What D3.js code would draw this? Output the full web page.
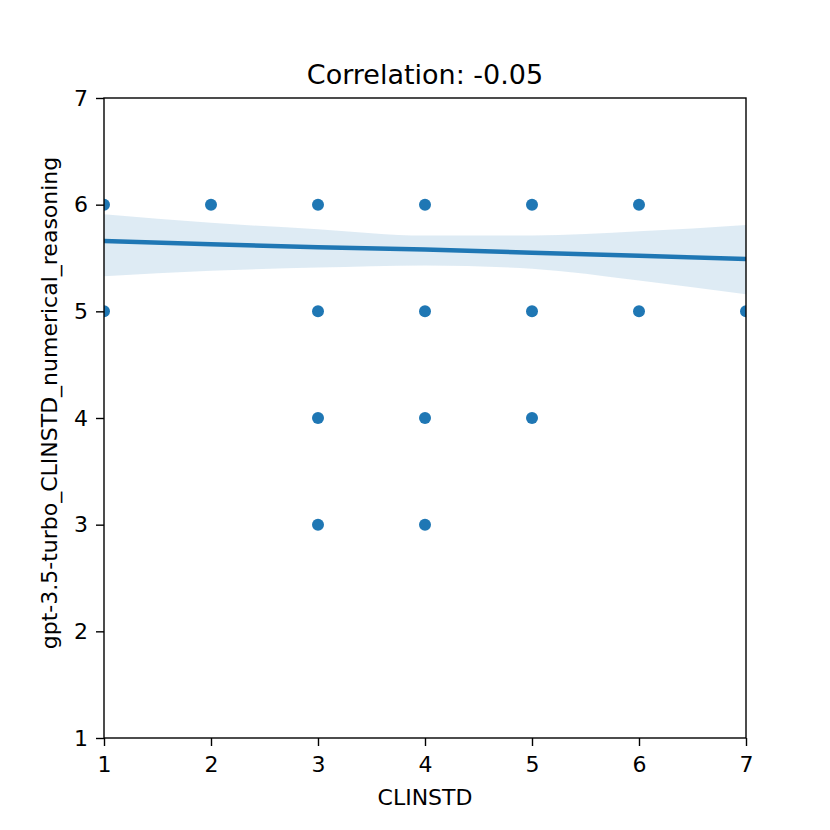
<!DOCTYPE html>
<html>
<head>
<meta charset="utf-8">
<script src="https://cdn.jsdelivr.net/npm/d3@7"></script>
<style>
  body { margin: 0; background: #fff; }
  text { font-family: "DejaVu Sans", sans-serif; fill: #000; }
</style>
</head>
<body>
<script>
// observed points (CLINSTD vs gpt-3.5-turbo score)
const xVals = [1, 1, 2, 3, 3, 3, 3, 4, 4, 4, 4, 5, 5, 5, 6, 6, 7];
const yVals = [6, 5, 6, 6, 5, 4, 3, 6, 5, 4, 3, 6, 5, 4, 6, 5, 5];

// fitted line and confidence band
const fitX     = [1, 2, 3, 4, 5, 6, 7];
const fitY     = [5.66, 5.63, 5.60, 5.58, 5.55, 5.52, 5.49];
const bandHigh = [5.91, 5.83, 5.77, 5.71, 5.71, 5.75, 5.81];
const bandLow  = [5.33, 5.38, 5.41, 5.43, 5.40, 5.29, 5.16];

const ticks = [1, 2, 3, 4, 5, 6, 7];
const title = "Correlation: -0.05";
const xLabel = "CLINSTD";
const yLabel = "gpt-3.5-turbo_CLINSTD_numerical_reasoning";

const width = 830, height = 830;
const margin = {top: 98, right: 84, bottom: 92, left: 104};
const blue = "#1f77b4";

const x = d3.scaleLinear().domain([1, 7]).range([margin.left, width - margin.right]);
const y = d3.scaleLinear().domain([1, 7]).range([height - margin.bottom, margin.top]);

const svg = d3.select("body").append("svg")
  .attr("width", width)
  .attr("height", height);

svg.append("clipPath").attr("id", "plot-clip")
  .append("rect")
  .attr("x", margin.left).attr("y", margin.top)
  .attr("width", width - margin.left - margin.right)
  .attr("height", height - margin.top - margin.bottom);

const plot = svg.append("g").attr("clip-path", "url(#plot-clip)");

// points
plot.append("g")
  .attr("fill", blue)
  .selectAll("circle")
  .data(xVals.map((v, i) => [v, yVals[i]]))
  .join("circle")
  .attr("cx", d => x(d[0]))
  .attr("cy", d => y(d[1]))
  .attr("r", 6);

// CI band
const band = fitX.map((v, i) => ({x: v, lo: bandLow[i], hi: bandHigh[i]}));
plot.append("path")
  .datum(band)
  .attr("fill", blue)
  .attr("fill-opacity", 0.15)
  .attr("d", d3.area()
    .x(d => x(d.x))
    .y0(d => y(d.lo))
    .y1(d => y(d.hi))
    .curve(d3.curveMonotoneX));

// regression line
plot.append("path")
  .datum(fitX.map((v, i) => [v, fitY[i]]))
  .attr("fill", "none")
  .attr("stroke", blue)
  .attr("stroke-width", 4.5)
  .attr("d", d3.line().x(d => x(d[0])).y(d => y(d[1])));

// axes
const xAxis = svg.append("g")
  .attr("transform", `translate(0,${height - margin.bottom})`)
  .call(d3.axisBottom(x).tickValues(ticks).tickFormat(d3.format("d")).tickSize(8).tickPadding(10));
const yAxis = svg.append("g")
  .attr("transform", `translate(${margin.left},0)`)
  .call(d3.axisLeft(y).tickValues(ticks).tickFormat(d3.format("d")).tickSize(8).tickPadding(8));

for (const ax of [xAxis, yAxis]) {
  ax.select(".domain").remove();
  ax.selectAll("line").attr("stroke", "#000").attr("stroke-width", 1.4);
  ax.selectAll("text").attr("font-size", 22).attr("font-family", "DejaVu Sans");
}

// frame
svg.append("rect")
  .attr("x", margin.left).attr("y", margin.top)
  .attr("width", width - margin.left - margin.right)
  .attr("height", height - margin.top - margin.bottom)
  .attr("fill", "none")
  .attr("stroke", "#000")
  .attr("stroke-width", 1.4);

svg.append("text")
  .attr("x", (margin.left + width - margin.right) / 2)
  .attr("y", 84)
  .attr("text-anchor", "middle")
  .attr("font-size", 27)
  .text(title);

svg.append("text")
  .attr("x", (margin.left + width - margin.right) / 2)
  .attr("y", 805)
  .attr("text-anchor", "middle")
  .attr("font-size", 22)
  .text(xLabel);

svg.append("text")
  .attr("transform", "translate(57,403) rotate(-90)")
  .attr("text-anchor", "middle")
  .attr("font-size", 22)
  .text(yLabel);
</script>
</body>
</html>
